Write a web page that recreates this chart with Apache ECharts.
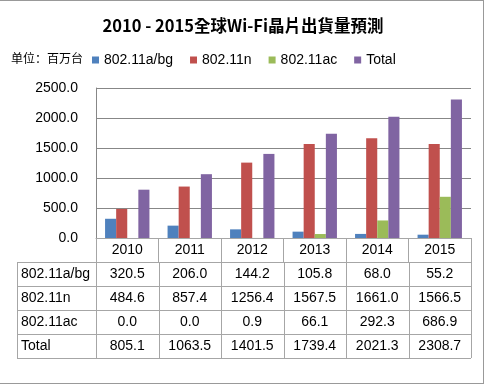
<!DOCTYPE html>
<html><head><meta charset="utf-8">
<script src="https://cdn.jsdelivr.net/npm/echarts@6/dist/echarts.min.js"></script>
<style>html,body{margin:0;padding:0;background:#fff}#c{width:486px;height:386px}</style>
</head><body><div id="c"></div>
<script>
const years = ['2010', '2011', '2012', '2013', '2014', '2015'];
const seriesNames = ['802.11a/bg', '802.11n', '802.11ac', 'Total'];
const abg = [320.5, 206.0, 144.2, 105.8, 68.0, 55.2];
const n11 = [484.6, 857.4, 1256.4, 1567.5, 1661.0, 1566.5];
const ac = [0.0, 0.0, 0.9, 66.1, 292.3, 686.9];
const total = [805.1, 1063.5, 1401.5, 1739.4, 2021.3, 2308.7];
const yMin = 0, yMax = 2500, yStep = 500;
const titleText = '2010 - 2015全球Wi-Fi晶片出貨量預測';
const unitText = '单位：百万台';

const colors = ['#4F81BD', '#C0504D', '#9BBB59', '#8064A2'];
const allData = [abg, n11, ac, total];
const latin = '"Liberation Sans", Arial, sans-serif';
const lineCol = '#a6a6a6';

const chart = echarts.init(document.getElementById('c'), null, {renderer: 'canvas'});
const option = {
  animation: false,
  backgroundColor: '#fff',
  color: colors,
  title: {
    text: titleText, left: 'center', top: 12,
    textStyle: {fontFamily: '"Noto Sans CJK TC", sans-serif', fontWeight: 'bold', fontSize: 16.5, color: '#000'}
  },
  legend: {
    data: seriesNames, left: 87, top: 48, icon: 'rect', itemWidth: 7, itemHeight: 7, itemGap: 17,
    textStyle: {fontFamily: latin, fontSize: 14, color: '#000'}
  },
  grid: {left: 96, right: 15, top: 88, bottom: 148},
  xAxis: {
    type: 'category', data: years,
    axisLine: {show: true, lineStyle: {color: lineCol}},
    axisTick: {show: true, length: 24, lineStyle: {color: lineCol}},
    axisLabel: {fontFamily: latin, fontSize: 14, color: '#000', margin: 5}
  },
  yAxis: {
    type: 'value', min: yMin, max: yMax, interval: yStep,
    axisLine: {show: true, lineStyle: {color: '#878787'}},
    axisTick: {show: false},
    splitLine: {lineStyle: {color: '#878787'}},
    axisLabel: {fontFamily: latin, fontSize: 14, color: '#000', margin: 18, formatter: v => v.toFixed(1)}
  },
  series: seriesNames.map((nm, i) => ({
    name: nm, type: 'bar', data: allData[i], barGap: '0%', barCategoryGap: '29%'
  }))
};
chart.setOption(option);

const px = (finder, v) => { const r = chart.convertToPixel(finder, v); return Array.isArray(r) ? r[0] : r; };
const centers = years.map((y, i) => px({xAxisIndex: 0}, i));
const band = centers[1] - centers[0];
const x0 = centers[0] - band / 2;
const xEnd = centers[centers.length - 1] + band / 2;
const yBase = px({yAxisIndex: 0}, 0);
const rowH = 24;
const tableLeft = 17;
const g = [];
const line = (x1, y1, x2, y2, c) => g.push({type: 'line', shape: {x1, y1, x2, y2}, style: {stroke: c || lineCol, lineWidth: 1}, silent: true});
const rows = seriesNames.length;
for (let r = 1; r <= rows + 1; r++) {
  const y = Math.round(yBase + r * rowH) + 0.5;
  line(tableLeft, y, xEnd, y);
}
line(tableLeft + 0.5, Math.round(yBase + rowH), tableLeft + 0.5, Math.round(yBase + (rows + 1) * rowH));
for (let i = 0; i <= years.length; i++) {
  const x = Math.round(x0 + i * band) + 0.5;
  line(x, Math.round(yBase + rowH), x, Math.round(yBase + (rows + 1) * rowH));
}
seriesNames.forEach((nm, r) => {
  const cy = yBase + (r + 1.5) * rowH;
  g.push({type: 'text', x: tableLeft + 4, y: cy, style: {text: nm, fill: '#000', font: '14px ' + latin, textVerticalAlign: 'middle', textAlign: 'left'}});
  allData[r].forEach((v, i) => {
    g.push({type: 'text', x: centers[i], y: cy, style: {text: v.toFixed(1), fill: '#000', font: '14px ' + latin, textVerticalAlign: 'middle', textAlign: 'center'}});
  });
});
g.push({type: 'text', x: 11, y: 58, style: {text: unitText, fill: '#000', font: '12px "Noto Sans CJK SC", sans-serif', textVerticalAlign: 'middle', textAlign: 'left'}});
line(0, 0.5, 484, 0.5, '#999');
line(483.5, 0, 483.5, 384, '#999');
line(0, 383.5, 484, 383.5, '#999');
chart.setOption({graphic: g});
</script>
</body></html>
